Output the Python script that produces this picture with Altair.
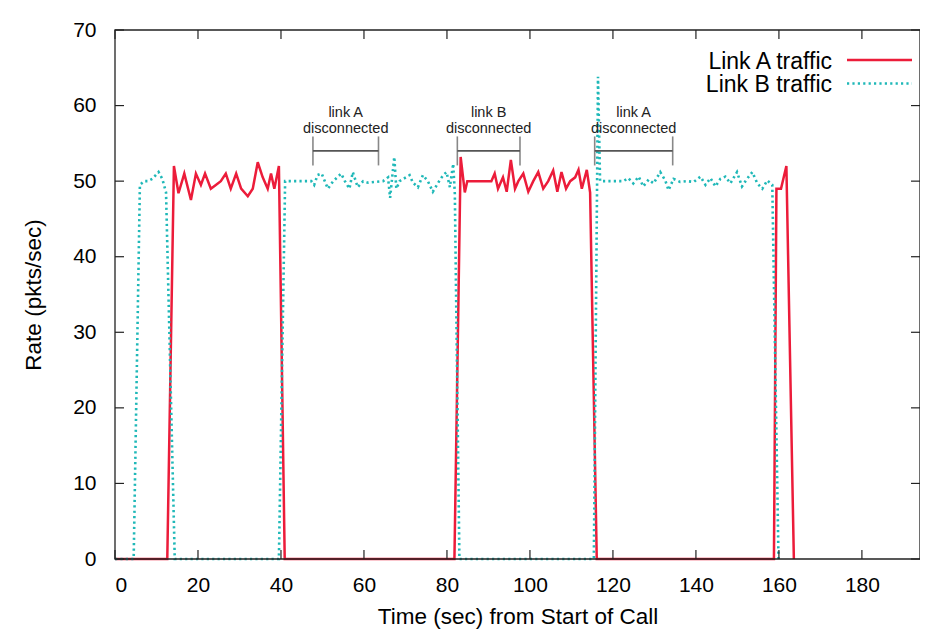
import altair as alt
import pandas as pd

# ---------------- data ----------------
series_names = ["Link A traffic", "Link B traffic"]

linkA_time = [0, 12.6, 14.2, 15.3, 16.7, 18.3, 19.5, 20.7, 21.7, 23.1, 24.3, 25.5,
              26.7, 27.9, 29.2, 30.4, 32.0, 33.2, 34.4, 35.6, 36.8, 37.6, 38.4, 39.5,
              40.9, 81.8, 83.3, 84.3, 84.9, 90.7, 91.5, 92.3, 93.5, 94.4, 95.4, 96.4,
              97.2, 98.4, 99.6, 100.8, 102.0, 103.2, 104.4, 105.6, 106.6, 107.6, 108.7,
              109.7, 110.9, 111.7, 112.5, 113.7, 114.5, 116.1, 158.8, 159.4, 160.5,
              161.8, 163.6]
linkA_rate = [0, 0, 52.0, 48.4, 51.0, 47.5, 51.0, 49.5, 51.0, 49.0, 49.5, 50.0,
              51.0, 49.0, 51.0, 49.0, 48.0, 49.0, 52.5, 50.5, 49.0, 51.0, 49.0, 52.0,
              0, 0, 53.2, 48.5, 50.0, 50.0, 51.0, 49.0, 50.5, 48.6, 52.8, 49.0,
              50.0, 51.0, 48.6, 50.0, 51.2, 49.0, 50.0, 51.4, 48.6, 51.2, 49.0,
              50.0, 50.5, 51.5, 49.0, 51.5, 48.5, 0, 0, 49.0, 49.0,
              52.0, 0]

linkB_time = [0, 4.5, 6.0, 7.0, 8.0, 9.0, 10.5, 11.4, 12.3, 14.4, 39.5, 41.0, 47.3,
              48.0, 48.8, 49.8, 51.3, 52.6, 54.5, 55.4, 56.5, 57.3, 58.5, 59.8, 61.0,
              64.6, 65.8, 66.3, 67.3, 67.8, 68.6, 69.8, 71.0, 71.8, 73.0, 74.2, 75.4,
              76.6, 77.9, 79.1, 79.9, 80.7, 81.5, 81.9, 83.0, 115.4, 116.4, 116.9,
              122.5, 123.7, 124.9, 126.2, 127.3, 128.6, 129.8, 131.4, 132.6, 133.4,
              134.6, 136.2, 137.9, 139.5, 141.1, 142.3, 143.5, 144.7, 145.9, 147.1,
              148.3, 149.9, 151.1, 152.3, 153.6, 154.8, 156.0, 157.2, 158.4, 159.9]
linkB_rate = [0, 0, 49.5, 50.0, 50.0, 50.3, 51.2, 50.3, 48.5, 0, 0, 50.0, 50.0,
              49.5, 50.8, 51.0, 49.0, 50.0, 51.0, 50.0, 49.0, 51.2, 49.2, 50.0, 49.8,
              50.0, 50.5, 47.8, 53.2, 49.0, 50.0, 50.4, 50.8, 49.8, 49.2, 50.8, 50.0,
              48.6, 49.8, 50.8, 51.2, 49.2, 52.3, 48.3, 0, 0, 63.8, 50.0,
              50.0, 50.4, 49.7, 50.6, 49.3, 50.2, 49.7, 51.2, 50.1, 48.8,
              50.3, 49.9, 50.0, 49.9, 50.6, 49.5, 50.4, 49.3, 50.3, 50.6,
              49.7, 51.2, 49.3, 50.3, 51.2, 49.7, 49.0, 50.1, 49.5, 0]

x_ticks = [0, 20, 40, 60, 80, 100, 120, 140, 160, 180]
y_ticks = [0, 10, 20, 30, 40, 50, 60, 70]

ann_top = ["link A", "link B", "link A"]
ann_bottom = ["disconnected", "disconnected", "disconnected"]
ann_start = [47.7, 82.5, 115.6]
ann_end = [63.5, 97.6, 134.4]
ann_level = [54.0, 54.0, 54.0]

# ---------------- styling ----------------
W, H = 805, 529
FONT = "Liberation Sans"
RED = "#ec1c3a"
CYAN = "#1fb8b8"
DOT = [2.2, 3.2]

xscale = alt.Scale(domain=[0, 194], nice=False, zero=False)
yscale = alt.Scale(domain=[0, 70], nice=False)

dfA = pd.DataFrame({"time": linkA_time, "rate": linkA_rate})
dfB = pd.DataFrame({"time": linkB_time, "rate": linkB_rate})

x_axis = alt.Axis(values=x_ticks, ticks=False, tickSize=0, domain=False, grid=False,
                  labelFontSize=21, labelPadding=15, labelColor="black",
                  title="Time (sec) from Start of Call", titleFontSize=22.5,
                  titleFontWeight="normal", titlePadding=10, titleColor="black",
                  labelFont=FONT, titleFont=FONT, format="d")
y_axis = alt.Axis(values=y_ticks, ticks=False, tickSize=0, domain=False, grid=False,
                  labelFontSize=21, labelPadding=19, labelColor="black",
                  title="Rate (pkts/sec)", titleFontSize=22.5,
                  titleFontWeight="normal", titlePadding=27, titleColor="black",
                  labelFont=FONT, titleFont=FONT, format="d")


def X(field):
    return alt.X(field, scale=xscale, axis=x_axis)


def Y(field):
    return alt.Y(field, scale=yscale, axis=y_axis)


lineA = alt.Chart(dfA).mark_line(color=RED, strokeWidth=2.5, strokeJoin="miter").encode(
    x=X("time:Q"), y=Y("rate:Q"), order="time:Q")
lineB = alt.Chart(dfB).mark_line(color=CYAN, strokeWidth=2.6, strokeDash=DOT).encode(
    x=X("time:Q"), y=Y("rate:Q"), order="time:Q")

# inward ticks on all four sides (gnuplot style)
TL = 9
xt = pd.DataFrame({"time": x_ticks})
yt = pd.DataFrame({"rate": y_ticks})
tick_style = dict(color="#222222", strokeWidth=1.2)
xt_bottom = alt.Chart(xt).mark_rule(**tick_style).encode(
    x=X("time:Q"), y=alt.value(H), y2=alt.value(H - TL))
xt_top = alt.Chart(xt).mark_rule(**tick_style).encode(
    x=X("time:Q"), y=alt.value(0), y2=alt.value(TL))
yt_left = alt.Chart(yt).mark_rule(**tick_style).encode(
    y=Y("rate:Q"), x=alt.value(0), x2=alt.value(TL))
yt_right = alt.Chart(yt).mark_rule(**tick_style).encode(
    y=Y("rate:Q"), x=alt.value(W), x2=alt.value(W - TL))

border = alt.Chart(pd.DataFrame({"a": [0]})).mark_rect(
    fillOpacity=0, stroke="#222222", strokeWidth=1.3).encode(
    x=alt.value(0), x2=alt.value(W), y=alt.value(0), y2=alt.value(H))

# annotations
ann = pd.DataFrame({"top": ann_top, "bottom": ann_bottom, "time": ann_start,
                    "e": ann_end, "rate": ann_level})
ann["mid"] = (ann["time"] + ann["e"]) / 2
GREY = "#555555"
ann_h = alt.Chart(ann).mark_rule(color=GREY, strokeWidth=1.6).encode(
    x=X("time:Q"), x2="e:Q", y=Y("rate:Q"))
ann_l = alt.Chart(ann).mark_tick(color=GREY, thickness=1.6, size=29, orient="vertical").encode(
    x=X("time:Q"), y=Y("rate:Q"))
ann_r = alt.Chart(ann).mark_tick(color=GREY, thickness=1.6, size=29, orient="vertical").encode(
    x=X("e:Q"), y=Y("rate:Q"))
ann_t1 = alt.Chart(ann).mark_text(font=FONT, fontSize=14.5, color="#222222",
                                  baseline="middle", align="center", dy=-37.5).encode(
    x=X("mid:Q"), y=Y("rate:Q"), text="top:N")
ann_t2 = alt.Chart(ann).mark_text(font=FONT, fontSize=14.5, color="#222222",
                                  baseline="middle", align="center", dy=-22).encode(
    x=X("mid:Q"), y=Y("rate:Q"), text="bottom:N")

# legend (top right, gnuplot style: label then sample)
one = pd.DataFrame({"a": [0]})
leg_items = []
for i, (name, col, dash) in enumerate([(series_names[0], RED, None),
                                       (series_names[1], CYAN, DOT)]):
    ypos = 30 + 23.5 * i
    leg_items.append(alt.Chart(one).mark_text(
        font=FONT, fontSize=23, align="right", baseline="middle", dy=1.5,
        color="black", text=name).encode(x=alt.value(717), y=alt.value(ypos)))
    rule_kw = dict(color=col, strokeWidth=2.6 if dash else 2.5)
    if dash:
        rule_kw["strokeDash"] = dash
    leg_items.append(alt.Chart(one).mark_rule(**rule_kw).encode(
        x=alt.value(732), x2=alt.value(797), y=alt.value(ypos)))

chart = alt.layer(
    lineA, lineB, ann_h, ann_l, ann_r, ann_t1, ann_t2,
    xt_bottom, xt_top, yt_left, yt_right, border, *leg_items
).properties(
    width=W, height=H,
    autosize=alt.AutoSizeParams(type="none"),
    padding={"left": 107, "top": 22, "right": 0, "bottom": 74},
    background="white",
).configure_view(stroke=None)

chart.save("out.html", embed_options={"renderer": "svg", "actions": False})
